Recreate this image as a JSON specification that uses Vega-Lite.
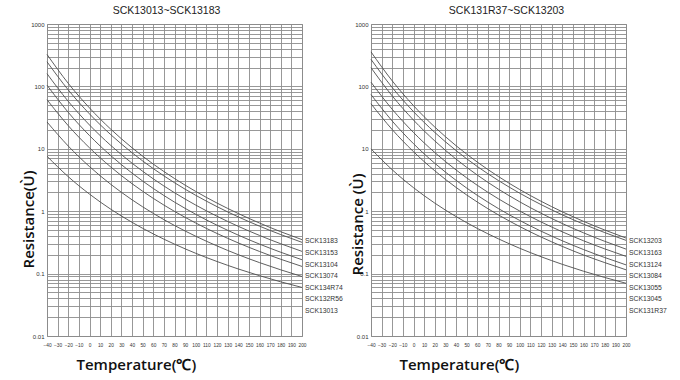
{
  "$schema": "https://vega.github.io/schema/vega-lite/v6.json",
  "background": "white",
  "padding": {"left": 20, "top": 5, "right": 5, "bottom": 5},
  "bounds": "flush",
  "spacing": 69,
  "config": {
    "view": {"stroke": "#8c8c8c", "strokeWidth": 1},
    "font": "Liberation Sans",
    "axis": {"grid": true, "gridColor": "#8c8c8c", "gridWidth": 0.9, "gridOpacity": 1, "ticks": false, "tickSize": 0, "domain": false, "labelFont": "Liberation Sans", "labelColor": "#333333", "labelOverlap": false, "labelFlush": false, "titleFont": "Open Sans", "titleFontWeight": 600, "titleFontSize": 15, "titleColor": "#111111"},
    "axisX": {"labelFontSize": 4.8, "labelPadding": 6},
    "axisY": {"labelFontSize": 6, "labelPadding": 3}
  },
  "datasets": {
    "left": [
      {"m":"SCK13183","T":-40,"R":325.1},{"m":"SCK13183","T":-20,"R":111.9},{"m":"SCK13183","T":0,"R":45.19},{"m":"SCK13183","T":20,"R":20.61},{"m":"SCK13183","T":40,"R":10.40},{"m":"SCK13183","T":60,"R":5.69},{"m":"SCK13183","T":80,"R":3.34},{"m":"SCK13183","T":100,"R":2.073},{"m":"SCK13183","T":120,"R":1.351},{"m":"SCK13183","T":140,"R":0.918},{"m":"SCK13183","T":160,"R":0.646},{"m":"SCK13183","T":180,"R":0.469},{"m":"SCK13183","T":200,"R":0.350},
      {"m":"SCK13153","T":-40,"R":248.0},{"m":"SCK13153","T":-20,"R":87.85},{"m":"SCK13153","T":0,"R":36.24},{"m":"SCK13153","T":20,"R":16.86},{"m":"SCK13153","T":40,"R":8.656},{"m":"SCK13153","T":60,"R":4.812},{"m":"SCK13153","T":80,"R":2.859},{"m":"SCK13153","T":100,"R":1.796},{"m":"SCK13153","T":120,"R":1.183},{"m":"SCK13153","T":140,"R":0.811},{"m":"SCK13153","T":160,"R":0.576},{"m":"SCK13153","T":180,"R":0.422},{"m":"SCK13153","T":200,"R":0.317},
      {"m":"SCK13104","T":-40,"R":159.9},{"m":"SCK13104","T":-20,"R":57.56},{"m":"SCK13104","T":0,"R":24.08},{"m":"SCK13104","T":20,"R":11.34},{"m":"SCK13104","T":40,"R":5.884},{"m":"SCK13104","T":60,"R":3.301},{"m":"SCK13104","T":80,"R":1.978},{"m":"SCK13104","T":100,"R":1.252},{"m":"SCK13104","T":120,"R":0.830},{"m":"SCK13104","T":140,"R":0.5725},{"m":"SCK13104","T":160,"R":0.4089},{"m":"SCK13104","T":180,"R":0.3007},{"m":"SCK13104","T":200,"R":0.227},
      {"m":"SCK13074","T":-40,"R":104.7},{"m":"SCK13074","T":-20,"R":38.37},{"m":"SCK13074","T":0,"R":16.30},{"m":"SCK13074","T":20,"R":7.779},{"m":"SCK13074","T":40,"R":4.081},{"m":"SCK13074","T":60,"R":2.313},{"m":"SCK13074","T":80,"R":1.398},{"m":"SCK13074","T":100,"R":0.892},{"m":"SCK13074","T":120,"R":0.5958},{"m":"SCK13074","T":140,"R":0.4138},{"m":"SCK13074","T":160,"R":0.2972},{"m":"SCK13074","T":180,"R":0.2198},{"m":"SCK13074","T":200,"R":0.1667},
      {"m":"SCK134R74","T":-40,"R":61.18},{"m":"SCK134R74","T":-20,"R":23.47},{"m":"SCK134R74","T":0,"R":10.36},{"m":"SCK134R74","T":20,"R":5.113},{"m":"SCK134R74","T":40,"R":2.761},{"m":"SCK134R74","T":60,"R":1.606},{"m":"SCK134R74","T":80,"R":0.993},{"m":"SCK134R74","T":100,"R":0.6464},{"m":"SCK134R74","T":120,"R":0.4396},{"m":"SCK134R74","T":140,"R":0.3103},{"m":"SCK134R74","T":160,"R":0.2263},{"m":"SCK134R74","T":180,"R":0.1697},{"m":"SCK134R74","T":200,"R":0.1303},
      {"m":"SCK132R56","T":-40,"R":26.91},{"m":"SCK132R56","T":-20,"R":11.07},{"m":"SCK132R56","T":0,"R":5.189},{"m":"SCK132R56","T":20,"R":2.697},{"m":"SCK132R56","T":40,"R":1.524},{"m":"SCK132R56","T":60,"R":0.922},{"m":"SCK132R56","T":80,"R":0.5906},{"m":"SCK132R56","T":100,"R":0.3968},{"m":"SCK132R56","T":120,"R":0.2777},{"m":"SCK132R56","T":140,"R":0.2010},{"m":"SCK132R56","T":160,"R":0.1500},{"m":"SCK132R56","T":180,"R":0.1149},{"m":"SCK132R56","T":200,"R":0.0899},
      {"m":"SCK13013","T":-40,"R":7.60},{"m":"SCK13013","T":-20,"R":3.574},{"m":"SCK13013","T":0,"R":1.878},{"m":"SCK13013","T":20,"R":1.077},{"m":"SCK13013","T":40,"R":0.6634},{"m":"SCK13013","T":60,"R":0.4329},{"m":"SCK13013","T":80,"R":0.2966},{"m":"SCK13013","T":100,"R":0.2115},{"m":"SCK13013","T":120,"R":0.1562},{"m":"SCK13013","T":140,"R":0.1187},{"m":"SCK13013","T":160,"R":0.0926},{"m":"SCK13013","T":180,"R":0.0738},{"m":"SCK13013","T":200,"R":0.0600}
    ],
    "right": [
      {"m":"SCK13203","T":-40,"R":357.1},{"m":"SCK13203","T":-20,"R":122.5},{"m":"SCK13203","T":0,"R":49.16},{"m":"SCK13203","T":20,"R":22.34},{"m":"SCK13203","T":40,"R":11.23},{"m":"SCK13203","T":60,"R":6.134},{"m":"SCK13203","T":80,"R":3.587},{"m":"SCK13203","T":100,"R":2.221},{"m":"SCK13203","T":120,"R":1.445},{"m":"SCK13203","T":140,"R":0.979},{"m":"SCK13203","T":160,"R":0.688},{"m":"SCK13203","T":180,"R":0.499},{"m":"SCK13203","T":200,"R":0.3715},
      {"m":"SCK13163","T":-40,"R":271.1},{"m":"SCK13163","T":-20,"R":95.79},{"m":"SCK13163","T":0,"R":39.43},{"m":"SCK13163","T":20,"R":18.31},{"m":"SCK13163","T":40,"R":9.387},{"m":"SCK13163","T":60,"R":5.212},{"m":"SCK13163","T":80,"R":3.093},{"m":"SCK13163","T":100,"R":1.941},{"m":"SCK13163","T":120,"R":1.277},{"m":"SCK13163","T":140,"R":0.875},{"m":"SCK13163","T":160,"R":0.621},{"m":"SCK13163","T":180,"R":0.454},{"m":"SCK13163","T":200,"R":0.341},
      {"m":"SCK13124","T":-40,"R":199.3},{"m":"SCK13124","T":-20,"R":70.28},{"m":"SCK13124","T":0,"R":28.87},{"m":"SCK13124","T":20,"R":13.39},{"m":"SCK13124","T":40,"R":6.850},{"m":"SCK13124","T":60,"R":3.798},{"m":"SCK13124","T":80,"R":2.251},{"m":"SCK13124","T":100,"R":1.412},{"m":"SCK13124","T":120,"R":0.928},{"m":"SCK13124","T":140,"R":0.635},{"m":"SCK13124","T":160,"R":0.4505},{"m":"SCK13124","T":180,"R":0.329},{"m":"SCK13124","T":200,"R":0.247},
      {"m":"SCK13084","T":-40,"R":116.8},{"m":"SCK13084","T":-20,"R":42.90},{"m":"SCK13084","T":0,"R":18.25},{"m":"SCK13084","T":20,"R":8.729},{"m":"SCK13084","T":40,"R":4.587},{"m":"SCK13084","T":60,"R":2.603},{"m":"SCK13084","T":80,"R":1.576},{"m":"SCK13084","T":100,"R":1.006},{"m":"SCK13084","T":120,"R":0.673},{"m":"SCK13084","T":140,"R":0.4675},{"m":"SCK13084","T":160,"R":0.336},{"m":"SCK13084","T":180,"R":0.249},{"m":"SCK13084","T":200,"R":0.189},
      {"m":"SCK13055","T":-40,"R":73.99},{"m":"SCK13055","T":-20,"R":27.81},{"m":"SCK13055","T":0,"R":12.07},{"m":"SCK13055","T":20,"R":5.866},{"m":"SCK13055","T":40,"R":3.128},{"m":"SCK13055","T":60,"R":1.798},{"m":"SCK13055","T":80,"R":1.100},{"m":"SCK13055","T":100,"R":0.710},{"m":"SCK13055","T":120,"R":0.479},{"m":"SCK13055","T":140,"R":0.336},{"m":"SCK13055","T":160,"R":0.243},{"m":"SCK13055","T":180,"R":0.181},{"m":"SCK13055","T":200,"R":0.138},
      {"m":"SCK13045","T":-40,"R":52.71},{"m":"SCK13045","T":-20,"R":20.29},{"m":"SCK13045","T":0,"R":8.986},{"m":"SCK13045","T":20,"R":4.447},{"m":"SCK13045","T":40,"R":2.408},{"m":"SCK13045","T":60,"R":1.404},{"m":"SCK13045","T":80,"R":0.870},{"m":"SCK13045","T":100,"R":0.567},{"m":"SCK13045","T":120,"R":0.386},{"m":"SCK13045","T":140,"R":0.273},{"m":"SCK13045","T":160,"R":0.199},{"m":"SCK13045","T":180,"R":0.150},{"m":"SCK13045","T":200,"R":0.115},
      {"m":"SCK131R37","T":-40,"R":9.972},{"m":"SCK131R37","T":-20,"R":4.606},{"m":"SCK131R37","T":0,"R":2.382},{"m":"SCK131R37","T":20,"R":1.348},{"m":"SCK131R37","T":40,"R":0.821},{"m":"SCK131R37","T":60,"R":0.530},{"m":"SCK131R37","T":80,"R":0.360},{"m":"SCK131R37","T":100,"R":0.2545},{"m":"SCK131R37","T":120,"R":0.1866},{"m":"SCK131R37","T":140,"R":0.1409},{"m":"SCK131R37","T":160,"R":0.1092},{"m":"SCK131R37","T":180,"R":0.0866},{"m":"SCK131R37","T":200,"R":0.0700}
    ],
    "leftLabels": [
      {"m":"SCK13183","T":200,"R":0.33},{"m":"SCK13153","T":200,"R":0.213},{"m":"SCK13104","T":200,"R":0.137},{"m":"SCK13074","T":200,"R":0.09},{"m":"SCK134R74","T":200,"R":0.059},{"m":"SCK132R56","T":200,"R":0.0385},{"m":"SCK13013","T":200,"R":0.0248}
    ],
    "rightLabels": [
      {"m":"SCK13203","T":200,"R":0.33},{"m":"SCK13163","T":200,"R":0.213},{"m":"SCK13124","T":200,"R":0.137},{"m":"SCK13084","T":200,"R":0.09},{"m":"SCK13055","T":200,"R":0.059},{"m":"SCK13045","T":200,"R":0.0385},{"m":"SCK131R37","T":200,"R":0.0248}
    ]
  },
  "hconcat": [
    {
      "width": 255, "height": 312,
      "title": {"text": "SCK13013~SCK13183", "fontSize": 10.5, "fontWeight": "normal", "font": "Liberation Sans", "color": "#222222", "offset": 5, "dx": -8, "anchor": "middle"},
      "encoding": {
        "x": {"field": "T", "type": "quantitative", "scale": {"domain": [-40, 200], "nice": false, "zero": false},
          "axis": {"values": [-40,-30,-20,-10,0,10,20,30,40,50,60,70,80,90,100,110,120,130,140,150,160,170,180,190,200], "title": "Temperature(℃)", "titleAnchor": "start", "titleAlign": "left", "titleX": 29, "titleY": 33, "titleBaseline": "alphabetic"}},
        "y": {"field": "R", "type": "quantitative", "scale": {"type": "log", "domain": [0.01, 1000], "nice": false},
          "axis": {"values": [0.01,0.02,0.03,0.04,0.05,0.06,0.07,0.08,0.09,0.1,0.2,0.3,0.4,0.5,0.6,0.7,0.8,0.9,1,2,3,4,5,6,7,8,9,10,20,30,40,50,60,70,80,90,100,200,300,400,500,600,700,800,900,1000], "format": "~g", "labelExpr": "(datum.value==0.01||datum.value==0.1||datum.value==1||datum.value==10||datum.value==100||datum.value==1000) ? datum.label : ''", "title": "Resistance(Ù)", "titleX": -19, "titleY": 195, "titleAngle": 270, "titleAlign": "center", "titleBaseline": "middle"}}
      },
      "layer": [
        {"data": {"name": "left"}, "mark": {"type": "line", "interpolate": "monotone", "color": "#4d4d4d", "strokeWidth": 0.9}, "encoding": {"detail": {"field": "m"}}},
        {"data": {"name": "leftLabels"}, "mark": {"type": "text", "align": "left", "dx": 3, "fontSize": 6.8, "color": "#333333", "font": "Liberation Sans"}, "encoding": {"text": {"field": "m"}}}
      ]
    },
    {
      "width": 255, "height": 312,
      "title": {"text": "SCK131R37~SCK13203", "fontSize": 10.5, "fontWeight": "normal", "font": "Liberation Sans", "color": "#222222", "offset": 5, "dx": 8, "anchor": "middle"},
      "encoding": {
        "x": {"field": "T", "type": "quantitative", "scale": {"domain": [-40, 200], "nice": false, "zero": false},
          "axis": {"values": [-40,-30,-20,-10,0,10,20,30,40,50,60,70,80,90,100,110,120,130,140,150,160,170,180,190,200], "title": "Temperature(℃)", "titleAnchor": "start", "titleAlign": "left", "titleX": 28, "titleY": 33, "titleBaseline": "alphabetic"}},
        "y": {"field": "R", "type": "quantitative", "scale": {"type": "log", "domain": [0.01, 1000], "nice": false},
          "axis": {"values": [0.01,0.02,0.03,0.04,0.05,0.06,0.07,0.08,0.09,0.1,0.2,0.3,0.4,0.5,0.6,0.7,0.8,0.9,1,2,3,4,5,6,7,8,9,10,20,30,40,50,60,70,80,90,100,200,300,400,500,600,700,800,900,1000], "format": "~g", "labelExpr": "(datum.value==0.01||datum.value==0.1||datum.value==1||datum.value==10||datum.value==100||datum.value==1000) ? datum.label : ''", "title": "Resistance (Ù)", "titleX": -14, "titleY": 200, "titleAngle": 270, "titleAlign": "center", "titleBaseline": "middle"}}
      },
      "layer": [
        {"data": {"name": "right"}, "mark": {"type": "line", "interpolate": "monotone", "color": "#4d4d4d", "strokeWidth": 0.9}, "encoding": {"detail": {"field": "m"}}},
        {"data": {"name": "rightLabels"}, "mark": {"type": "text", "align": "left", "dx": 3, "fontSize": 6.8, "color": "#333333", "font": "Liberation Sans"}, "encoding": {"text": {"field": "m"}}}
      ]
    }
  ]
}
